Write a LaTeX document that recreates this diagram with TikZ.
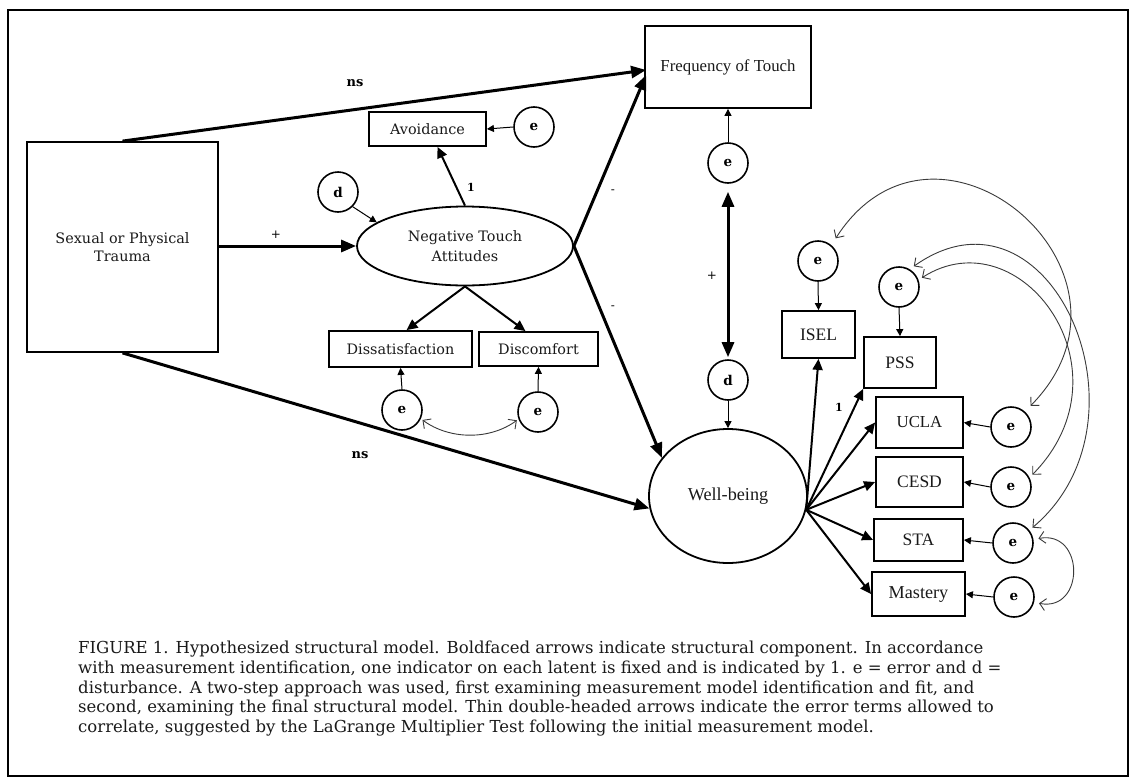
\documentclass[tikz,border=0pt]{standalone}
\usepackage{fontspec}
\setmainfont{DejaVu Serif}
\newfontfamily\tms{Liberation Serif}
\usetikzlibrary{arrows.meta,shapes.geometric,calc}
\definecolor{txt}{HTML}{1A1A1A}
\definecolor{curv}{HTML}{3A3A3A}
\begin{document}
\begin{tikzpicture}[x=1pt,y=-1pt,
  bx/.style={draw, line width=1.8pt, inner sep=0pt, text=txt, align=center},
  cam/.style={font=\fontsize{14.4}{18}\selectfont},
  tim/.style={font=\tms\fontsize{17.5}{20}\selectfont},
  circ/.style={draw, circle, line width=1.6pt, minimum size=40pt, inner sep=0pt, text=black, font=\fontsize{13.5}{13.5}\selectfont\bfseries},
  lat/.style={draw, ellipse, line width=1.8pt, inner sep=0pt, text=txt, align=center},
  boldarr/.style={line width=3pt, -{Triangle[length=15pt,width=12pt]}},
  medarr/.style={line width=2pt, -{Triangle[length=11pt,width=10pt]}},
  thinarr/.style={line width=1pt, -{Triangle[length=7pt,width=7pt]}},
  corr/.style={line width=0.9pt, draw=curv, {Straight Barb[length=6pt,width=12pt]}-{Straight Barb[length=6pt,width=12pt]}},
  lab/.style={text=black, inner sep=0pt, font=\fontsize{12}{12}\selectfont},
  blab/.style={text=black, inner sep=0pt, font=\fontsize{13}{13}\selectfont\bfseries}
]
\useasboundingbox (0,0) rectangle (1136,782);
\fill[white] (0,0) rectangle (1136,782);
\draw[line width=2.2pt] (8,10) rectangle (1128,776);

% main nodes
\node[bx, cam, minimum width=191pt, minimum height=210pt] (trauma) at (122.5,247) {Sexual or Physical\\Trauma};
\node[bx, tim, font=\tms\fontsize{16.8}{20}\selectfont, minimum width=166pt, minimum height=82pt] (freq) at (728,67) {Frequency of Touch};
\node[bx, cam, minimum width=117pt, minimum height=34pt] (avoid) at (427.5,129) {Avoidance};
\node[bx, cam, minimum width=143pt, minimum height=36pt] (dissat) at (400.5,349) {Dissatisfaction};
\node[bx, cam, minimum width=119pt, minimum height=34pt] (discomf) at (538.5,349) {Discomfort};
\node[lat, cam, font=\fontsize{14.4}{20}\selectfont, minimum width=216pt, minimum height=79pt] (nta) at (465,246) {Negative Touch\\Attitudes};
\node[lat, tim, font=\tms\fontsize{18.2}{20}\selectfont, minimum width=158pt, minimum height=134pt] (wb) at (728,496) {Well-being};

\node[bx, tim, minimum width=73pt, minimum height=47pt] (isel) at (818.5,334.5) {ISEL};
\node[bx, tim, minimum width=72pt, minimum height=51pt] (pss) at (900,362.5) {PSS};
\node[bx, tim, font=\tms\fontsize{16.8}{20}\selectfont, minimum width=87pt, minimum height=51pt] (ucla) at (919.5,422.5) {UCLA};
\node[bx, tim, minimum width=87pt, minimum height=50pt] (cesd) at (919.5,482) {CESD};
\node[bx, tim, minimum width=89pt, minimum height=42pt] (sta) at (918.5,540) {STA};
\node[bx, tim, font=\tms\fontsize{18.2}{20}\selectfont, minimum width=93pt, minimum height=44pt] (mast) at (918.5,594) {Mastery};

% error / disturbance circles
\node[circ] (eavoid) at (534,127) {e};
\node[circ] (dnta) at (338,192) {d};
\node[circ] (efreq) at (728,163) {e};
\node[circ] (dwb) at (728,380) {d};
\node[circ] (edis) at (402,410) {e};
\node[circ] (ecom) at (538,412) {e};
\node[circ] (eisel) at (818,261) {e};
\node[circ] (epss) at (899,287) {e};
\node[circ] (eucla) at (1011,427) {e};
\node[circ] (ecesd) at (1011,487) {e};
\node[circ] (esta) at (1013,543) {e};
\node[circ] (emast) at (1014,597) {e};

% structural arrows
\draw[boldarr] (trauma.north) -- ($(freq.west)+(2,3)$);
\draw[boldarr] (trauma.east |- nta.west) -- (nta.west);
\draw[boldarr] (nta.east) -- ($(freq.west)+(2,8)$);
\draw[boldarr] (nta.east) -- (wb.150);
\draw[boldarr] (trauma.south) -- (wb.189);
\draw[line width=3pt, {Triangle[length=15pt,width=12pt]}-{Triangle[length=15pt,width=12pt]}, shorten <=8pt, shorten >=2pt] (efreq.south) -- (dwb.north);

% measurement arrows
\draw[medarr] (nta.north) -- ($(avoid.south)+(10,0)$);
\draw[medarr] (nta.south) -- ($(dissat.north)+(6,0)$);
\draw[medarr] (nta.south) -- ($(discomf.north)+(-13,0)$);
\coordinate (wbr) at (wb.-10);
\draw[medarr] (wbr) -- (isel.south);
\draw[medarr] (wbr) -- (pss.south west);
\draw[medarr] (wbr) -- (ucla.west);
\draw[medarr] (wbr) -- (cesd.west);
\draw[medarr] (wbr) -- (sta.west);
\draw[medarr] (wbr) -- (mast.west);

% error arrows
\draw[thinarr] (eavoid.west) -- (avoid.east);
\draw[thinarr] (dnta.-45) -- (nta.165);
\draw[thinarr] (efreq.north) -- (freq.south);
\draw[thinarr] (dwb.south) -- (wb.north);
\draw[thinarr] (edis.north) -- (dissat.south);
\draw[thinarr] (ecom.north) -- (discomf.south);
\draw[thinarr] (eisel.south) -- (isel.north);
\draw[thinarr] (epss.south) -- (pss.north);
\draw[thinarr] (eucla.west) -- (ucla.east);
\draw[thinarr] (ecesd.west) -- (cesd.east);
\draw[thinarr] (esta.west) -- (sta.east);
\draw[thinarr] (emast.west) -- (mast.east);

% correlations
\draw[corr, shorten <=2pt, shorten >=2pt] (edis.-25) .. controls (450,440) and (490,440) .. (ecom.-160);
\draw[corr, shorten <=8pt, shorten >=8pt] (eisel.50) .. controls (936,82) and (1162,272) .. (eucla.48);
\draw[corr, shorten <=5pt, shorten >=4pt] (epss.59) .. controls (1050,170) and (1160,420) .. (esta.38);
\draw[corr, shorten <=4pt, shorten >=4pt] (epss.20) .. controls (1020,215) and (1135,370) .. (ecesd.27);
\draw[corr, shorten <=5pt, shorten >=5pt] (esta.10) .. controls (1085,530) and (1085,612) .. (emast.-15);

% labels
\node[blab] (ns1) at (355,83) {ns};
\node[blab] (ns2) at (360,455) {ns};
\node[lab] (p1) at (276,235) {+};
\node[lab] (p2) at (712,276) {+};
\node[lab] (m1) at (613,192) {-};
\node[lab] (m2) at (613,308) {-};
\node[blab, font=\fontsize{11}{11}\selectfont\bfseries] (one1) at (471,187) {1};
\node[blab, font=\fontsize{11}{11}\selectfont\bfseries] (one2) at (839,407) {1};

% caption
\node[anchor=north west, inner sep=0pt, align=left, text=txt, font=\fontsize{16.5}{19.7}\selectfont] (cap) at (78,641)
{FIGURE 1. Hypothesized structural model. Boldfaced arrows indicate structural component. In accordance\\
with measurement identification, one indicator on each latent is fixed and is indicated by 1. e = error and d =\\
disturbance. A two-step approach was used, first examining measurement model identification and fit, and\\
second, examining the final structural model. Thin double-headed arrows indicate the error terms allowed to\\
correlate, suggested by the LaGrange Multiplier Test following the initial measurement model.};
\end{tikzpicture}
\end{document}
